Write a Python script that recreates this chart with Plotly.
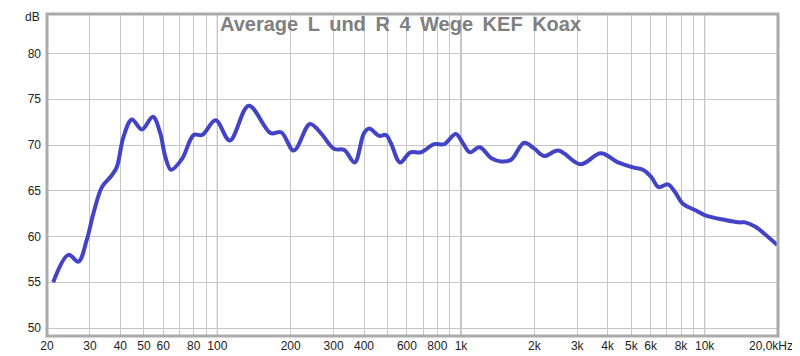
import plotly.graph_objects as go

freq_hz = [21.2, 24.5, 26.9, 29.1, 31.0, 33.6, 36.9, 38.7, 41.2, 44.6, 49.0, 54.4, 58.3, 61.2,
           64.6, 71.7, 80, 86.6, 98.4, 112.5, 134.6, 165.6, 182.8, 206, 240, 266, 301, 332,
           366, 400, 420, 462, 492, 516, 562, 620, 684, 776, 854, 952, 1018, 1087, 1192,
           1334, 1462, 1606, 1816, 2000, 2194, 2508, 3100, 3746, 4412, 5080, 5580, 6040,
           6470, 7070, 7540, 8160, 9120, 10000, 12140, 13760, 14660, 16160, 17770, 19880]
level_db = [55.0, 58.0, 57.25, 59.6, 62.5, 65.4, 66.7, 67.6, 70.9, 72.8, 71.7, 73.1, 71.3, 68.7,
            67.3, 68.5, 71.1, 71.1, 72.7, 70.5, 74.3, 71.3, 71.4, 69.4, 72.3, 71.3, 69.6, 69.45,
            68.1, 71.3, 71.8, 71.0, 71.1, 70.2, 68.1, 69.2, 69.2, 70.1, 70.1, 71.2, 70.2, 69.2, 69.75,
            68.55, 68.2, 68.4, 70.25, 69.6, 68.8, 69.4, 67.9, 69.1, 68.1, 67.56, 67.3, 66.5,
            65.4, 65.7, 64.9, 63.55, 62.9, 62.35, 61.8, 61.55, 61.55, 61.07, 60.2, 59.07]

x_grid = [20, 30, 40, 50, 60, 70, 80, 90, 100, 200, 300, 400, 500, 600, 700, 800, 900,
          1000, 2000, 3000, 4000, 5000, 6000, 7000, 8000, 9000, 10000, 20000]
x_labels = ["20", "30", "40", "50", "60", "", "80", "", "100", "200", "300", "400", "", "600",
            "", "800", "", "1k", "2k", "3k", "4k", "5k", "6k", "", "8k", "", "10k", ""]
x_major = [100, 1000, 10000]
y_ticks = [50, 55, 60, 65, 70, 75, 80]
title_text = "Average L und R 4 Wege KEF Koax"

FONT = "Arial, Liberation Sans, sans-serif"

# page offset from the default 8px body margin
OFF = 8
W, H = 800 - OFF, 356 - OFF
L, R, T, B = 47 - OFF, 22, 14 - OFF, 20

fig = go.Figure()
fig.add_trace(go.Scatter(x=freq_hz, y=level_db, mode="lines",
                         line=dict(color="#4343c6", width=4, shape="spline", smoothing=1.0),
                         hoverinfo="skip", showlegend=False))

for xm in x_major:
    fig.add_shape(type="line", x0=xm, x1=xm, y0=0, y1=1, xref="x", yref="paper",
                  line=dict(color="#8a8a8a", width=1), layer="below")

fig.add_shape(type="rect", x0=0, x1=1, y0=0, y1=1, xref="paper", yref="paper",
              line=dict(color="#ababab", width=3), layer="above")


def px(x, y):
    pw = W - L - R
    ph = H - T - B
    return (x - OFF - L) / pw, 1 - (y - OFF - T) / ph


tx, ty = px(400, 24)
dx, dy = px(32, 8)
kx, ky = px(771, 346)

fig.update_layout(
    width=W, height=H,
    margin=dict(l=L, r=R, t=T, b=B, autoexpand=False),
    paper_bgcolor="white", plot_bgcolor="white",
    font=dict(family=FONT, size=12, color="#222222"),
    xaxis=dict(type="log", range=[1.30103, 4.30103], tickvals=x_grid, ticktext=x_labels,
               showgrid=True, gridcolor="#c6c6c6", gridwidth=1, zeroline=False, automargin=False,
               showline=False, ticks="", tickangle=0, ticklabelstandoff=1),
    yaxis=dict(range=[49.13, 84.32], tickvals=y_ticks, showgrid=True, gridcolor="#c6c6c6",
               gridwidth=1, zeroline=False, showline=False, ticks="", ticklabelstandoff=5,
               automargin=False),
    annotations=[
        dict(text="<b>" + title_text.replace(" ", " \u2009") + "</b>", x=tx, y=ty,
             xref="paper", yref="paper",
             showarrow=False, font=dict(family=FONT, size=20, color="#808080"),
             xanchor="center", yanchor="middle"),
        dict(text="dB", x=dx, y=dy, xref="paper", yref="paper", showarrow=False,
             font=dict(family=FONT, size=12, color="#222222"), xanchor="center", yanchor="top"),
        dict(text="20,0kHz", x=kx, y=ky, xref="paper", yref="paper", showarrow=False,
             font=dict(family=FONT, size=12, color="#222222"), xanchor="center", yanchor="middle"),
    ],
)

fig.write_html("out.html")
